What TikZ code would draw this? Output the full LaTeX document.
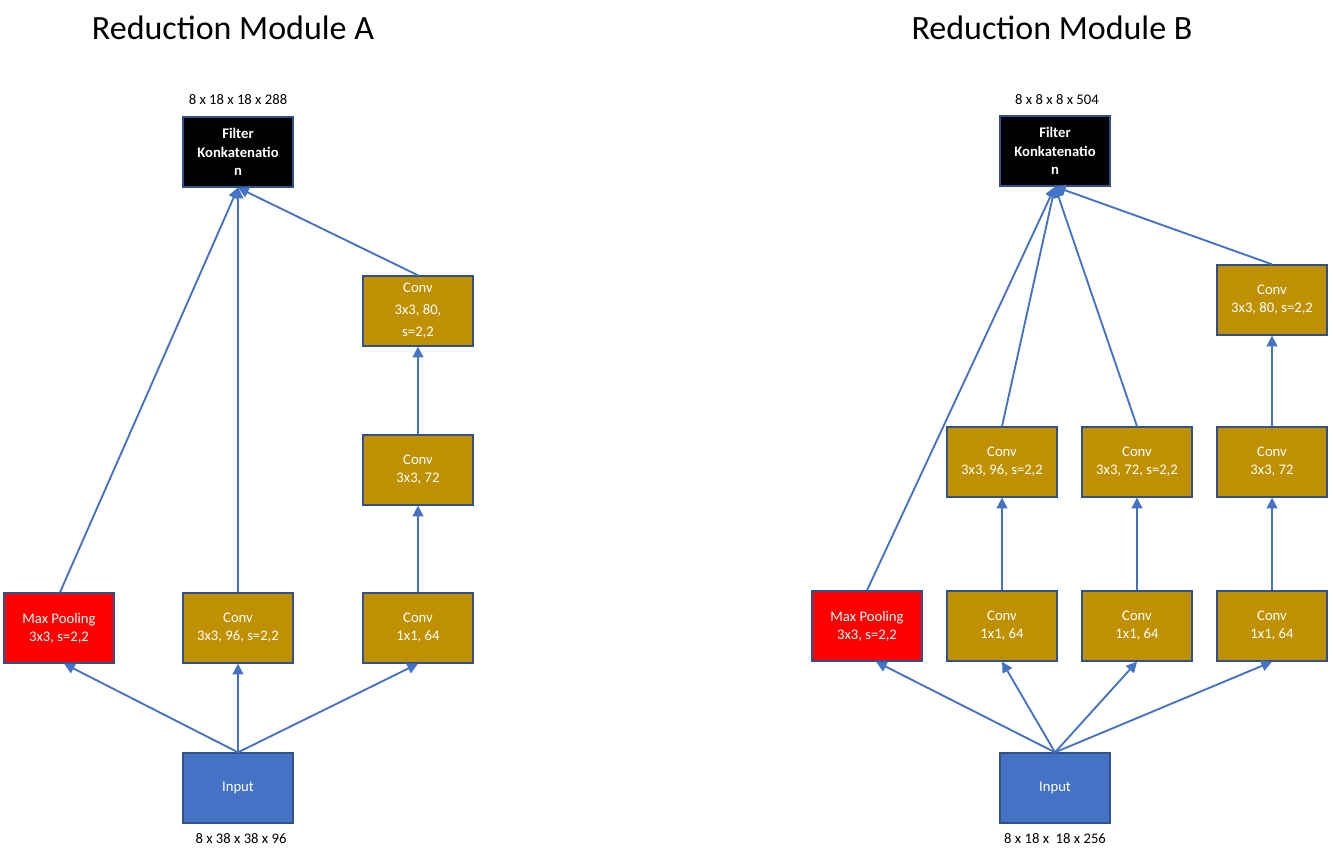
\documentclass[tikz,border=0pt]{standalone}
\usepackage{fontspec}
\setmainfont{Carlito}
\usetikzlibrary{arrows.meta,calc}
\definecolor{gold}{HTML}{BF9000}
\definecolor{bordblue}{HTML}{2F528F}
\definecolor{arrblue}{HTML}{4472C4}
\begin{document}
\begin{tikzpicture}[x=0.75pt,y=-0.75pt,
  box/.style={draw=bordblue,line width=1.5pt,minimum width=82pt,minimum height=52pt,inner sep=0pt,align=center,text=white,font=\fontsize{11}{13.5}\selectfont},
  convbox/.style={box,fill=gold},
  poolbox/.style={box,fill=red},
  inbox/.style={box,fill=arrblue},
  catbox/.style={box,fill=black,font=\fontsize{11}{14}\selectfont\bfseries},
  lbl/.style={font=\fontsize{11}{13}\selectfont,inner sep=0pt},
  ttl/.style={font=\fontsize{25.5}{30}\selectfont,inner sep=0pt},
  arr/.style={draw=arrblue,line width=1.4pt,-{Triangle[length=8pt,width=8pt]}}]
\useasboundingbox (0,0) rectangle (1333,852);
% ---------------- Module A ----------------
\node[ttl] (tA) at (233,28) {Reduction Module A};
\node[catbox] (fA) at (238,152) {Filter\\Konkatenatio\\n};
\node[lbl] (lfA) at (238,100) {8 x 18 x 18 x 288};
\node[convbox] (c80A) at (418,311) {Conv\\[3pt]3x3, 80,\\[3pt]s=2,2};
\node[convbox] (c72A) at (418,470) {Conv\\3x3, 72};
\node[poolbox] (mpA) at (59,628) {Max Pooling\\3x3, s=2,2};
\node[convbox] (c96A) at (238,628) {Conv\\3x3, 96, s=2,2};
\node[convbox] (c1A) at (418,628) {Conv\\1x1, 64};
\node[inbox] (inA) at (238,788) {Input};
\node[lbl] (linA) at (241,839) {8 x 38 x 38 x 96};
\draw[arr] (inA.north) -- ($(mpA.south)+(5,0)$);
\draw[arr] (inA.north) -- (c96A.south);
\draw[arr] (inA.north) -- (c1A.south);
\draw[arr] (c1A.north) -- (c72A.south);
\draw[arr] (c72A.north) -- (c80A.south);
\draw[arr] ($(mpA.north)+(1,0)$) -- (fA.south);
\draw[arr] (c96A.north) -- (fA.south);
\draw[arr] (c80A.north) -- (fA.south);
% ---------------- Module B ----------------
\node[ttl] (tB) at (1052,28) {Reduction Module B};
\node[catbox] (fB) at (1055,151) {Filter\\Konkatenatio\\n};
\node[lbl] (lfB) at (1057,100) {8 x 8 x 8 x 504};
\node[convbox] (c80B) at (1272,300) {Conv\\3x3, 80, s=2,2};
\node[convbox] (c96B) at (1002,462) {Conv\\3x3, 96, s=2,2};
\node[convbox] (c72sB) at (1137,462) {Conv\\3x3, 72, s=2,2};
\node[convbox] (c72B) at (1272,462) {Conv\\3x3, 72};
\node[poolbox] (mpB) at (867,626) {Max Pooling\\3x3, s=2,2};
\node[convbox] (c1aB) at (1002,626) {Conv\\1x1, 64};
\node[convbox] (c1bB) at (1137,626) {Conv\\1x1, 64};
\node[convbox] (c1cB) at (1272,626) {Conv\\1x1, 64};
\node[inbox] (inB) at (1055,788) {Input};
\node[lbl] (linB) at (1055,839) {8 x 18 x\ \ 18 x 256};
\draw[arr] (inB.north) -- ($(mpB.south)+(9,0)$);
\draw[arr] (inB.north) -- (c1aB.south);
\draw[arr] (inB.north) -- (c1bB.south);
\draw[arr] (inB.north) -- (c1cB.south);
\draw[arr] (c1aB.north) -- (c96B.south);
\draw[arr] (c1bB.north) -- (c72sB.south);
\draw[arr] (c1cB.north) -- (c72B.south);
\draw[arr] (c72B.north) -- (c80B.south);
\draw[arr] (mpB.north) -- (fB.south);
\draw[arr] (c96B.north) -- (fB.south);
\draw[arr] (c72sB.north) -- (fB.south);
\draw[arr] (c80B.north) -- (fB.south);
\end{tikzpicture}
\end{document}
